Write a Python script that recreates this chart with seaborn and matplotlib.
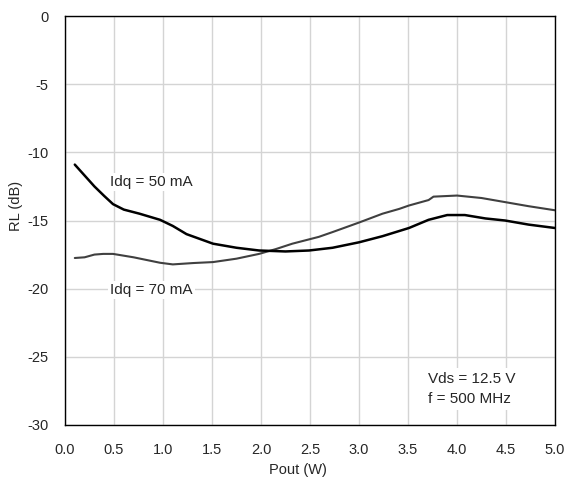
import matplotlib
matplotlib.use('Agg')
import matplotlib.pyplot as plt
import seaborn as sns
import pandas as pd

# Idq = 50 mA curve
pout_50 = [0.1, 0.2, 0.3, 0.4, 0.49, 0.6, 0.76, 0.97, 1.1, 1.24, 1.51, 1.75, 1.98, 2.25, 2.49, 2.73, 3.0, 3.24, 3.51, 3.71, 3.9, 4.08, 4.29, 4.49, 4.73, 5.0]
rl_50 = [-10.9, -11.7, -12.5, -13.2, -13.8, -14.2, -14.5, -14.95, -15.4, -16.0, -16.7, -17.0, -17.2, -17.27, -17.2, -17.0, -16.6, -16.15, -15.55, -14.95, -14.6, -14.6, -14.85, -15.0, -15.3, -15.55]

# Idq = 70 mA curve
pout_70 = [0.1, 0.2, 0.3, 0.39, 0.49, 0.7, 0.97, 1.1, 1.31, 1.51, 1.75, 1.98, 2.15, 2.32, 2.59, 2.73, 3.0, 3.24, 3.41, 3.51, 3.71, 3.76, 4.0, 4.25, 4.49, 4.73, 5.0]
rl_70 = [-17.75, -17.7, -17.5, -17.45, -17.45, -17.7, -18.1, -18.22, -18.12, -18.05, -17.8, -17.45, -17.1, -16.7, -16.2, -15.85, -15.15, -14.5, -14.15, -13.9, -13.5, -13.25, -13.17, -13.35, -13.65, -13.95, -14.25]

df50 = pd.DataFrame({'Pout': pout_50, 'RL': rl_50})
df70 = pd.DataFrame({'Pout': pout_70, 'RL': rl_70})

sns.set_style('white')
plt.rcParams['font.family'] = ['Liberation Sans', 'DejaVu Sans']
plt.rcParams['axes.unicode_minus'] = False

fig = plt.figure(figsize=(5.68, 4.8), dpi=100)
ax = fig.add_axes([65 / 568, 55 / 480, 490 / 568, 409 / 480])

sns.lineplot(data=df70, x='Pout', y='RL', ax=ax, color='#404040', linewidth=1.5)
sns.lineplot(data=df50, x='Pout', y='RL', ax=ax, color='black', linewidth=1.8)

ax.set_xlim(0, 5)
ax.set_ylim(-30, 0)
ax.set_xticks([i * 0.5 for i in range(11)])
ax.set_xticklabels([f"{i * 0.5:.1f}" for i in range(11)])
ax.set_yticks(range(-30, 1, 5))
ax.grid(True, color='#d4d4d4', linewidth=1)
ax.set_axisbelow(True)
ax.tick_params(axis='x', length=0, labelsize=10.5, pad=13)
ax.tick_params(axis='y', length=0, labelsize=10.5, pad=12)
for s in ax.spines.values():
    s.set_color('black')
    s.set_linewidth(1)

ax.set_xlabel('Pout (W)', fontsize=10.5)
ax.set_ylabel('RL (dB)', fontsize=10.5)
ax.xaxis.set_label_coords(0.476, -0.093)
ax.yaxis.set_label_coords(-0.086, 0.535)

box = dict(facecolor='white', edgecolor='none', pad=1.5)
ax.text(0.46, -12.2, 'Idq = 50 mA', fontsize=11, va='center', bbox=box)
ax.text(0.46, -20.1, 'Idq = 70 mA', fontsize=11, va='center', bbox=box)
ax.text(3.7, -27.35, 'Vds = 12.5 V\nf = 500 MHz', fontsize=11, va='center',
        linespacing=1.55, bbox=dict(facecolor='white', edgecolor='none', pad=3))

fig.savefig('out.png', dpi=100)
